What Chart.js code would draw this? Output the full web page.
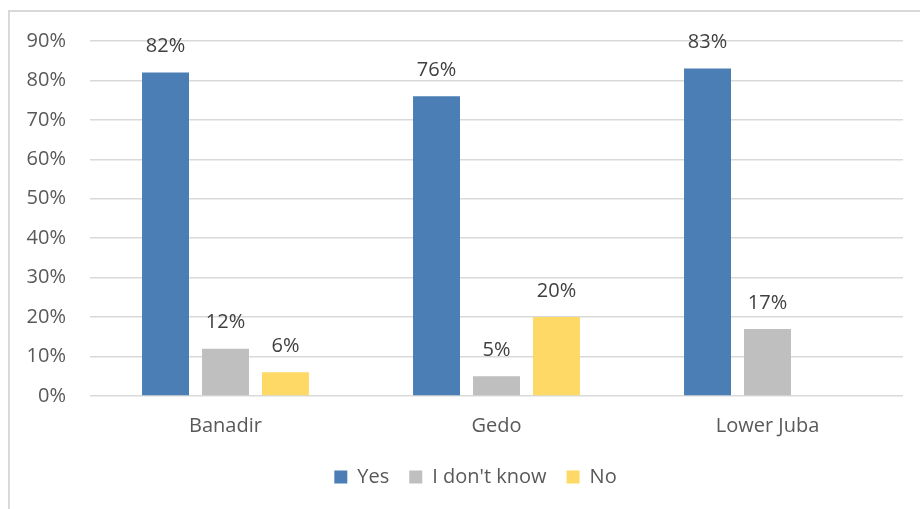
<!DOCTYPE html>
<html>
<head>
<meta charset="utf-8">
<script src="https://cdn.jsdelivr.net/npm/chart.js@4"></script>
<style>
  body { margin: 0; background: #fff; }
  #marco { position: absolute; left: 8px; top: 10px; width: 960px; height: 560px; border: 2px solid #d9d9d9; }
  #caja { position: absolute; left: 0; top: 0; width: 920px; height: 509px; }
</style>
</head>
<body>
<div id="marco"></div>
<div id="caja"><canvas id="grafica" width="920" height="509"></canvas></div>
<script>
const regiones = ["Banadir", "Gedo", "Lower Juba"];
const si = [82, 76, 83];
const noSabe = [12, 5, 17];
const no = [6, 20, null];
const ticksY = [0, 10, 20, 30, 40, 50, 60, 70, 80, 90];

const fuente = "'Open Sans', Lato, sans-serif";

// etiquetas de porcentaje encima de cada barra
const etiquetas = {
    id: "etiquetas",
    afterLayout(chart) {
        // la leyenda va un poco a la derecha del centro
        chart.legend.left += 24;
        chart.legend.right += 24;
    },
    afterDatasetsDraw(chart) {
        const c = chart.ctx;
        c.save();
        c.font = "20px " + fuente;
        c.fillStyle = "#404040";
        c.textAlign = "center";
        c.textBaseline = "middle";
        chart.data.datasets.forEach((ds, i) => {
            chart.getDatasetMeta(i).data.forEach((bar, j) => {
                const v = ds.data[j];
                if (v == null) return;
                c.fillText(v + "%", bar.x, bar.y - 26);
            });
        });
        c.restore();
    }
};

const ctx = document.getElementById("grafica");

new Chart(ctx, {
    type: "bar",
    data: {
        labels: regiones,
        datasets: [
            { label: "Yes", data: si, backgroundColor: "#4a7eb4" },
            { label: "I don't know", data: noSabe, backgroundColor: "#bfbfbf" },
            { label: "No", data: no, backgroundColor: "#ffd966" }
        ]
    },
    options: {
        responsive: false,
        animation: false,
        devicePixelRatio: 1,
        categoryPercentage: 0.664,
        barPercentage: 0.783,
        layout: { padding: { top: 41, right: 17, bottom: 12, left: 0 } },
        scales: {
            x: {
                grid: { display: false },
                border: { display: false },
                ticks: { color: "#595959", font: { family: fuente, size: 20 }, padding: 10 },
                afterFit(s) { s.height = 51; }
            },
            y: {
                min: 0,
                max: 90,
                afterBuildTicks(s) { s.ticks = ticksY.map(v => ({ value: v })); },
                grid: { color: "#d9d9d9", lineWidth: 1.5, drawTicks: false },
                border: { display: false },
                ticks: {
                    color: "#595959",
                    font: { family: fuente, size: 20 },
                    padding: 24,
                    callback: v => v + "%"
                },
                afterFit(s) { s.width = 90; }
            }
        },
        plugins: {
            legend: {
                position: "bottom",
                labels: {
                    color: "#595959",
                    font: { family: fuente, size: 20 },
                    boxWidth: 13,
                    boxHeight: 13,
                    padding: 20
                }
            },
            tooltip: { enabled: false }
        }
    },
    plugins: [etiquetas]
});
</script>
</body>
</html>
